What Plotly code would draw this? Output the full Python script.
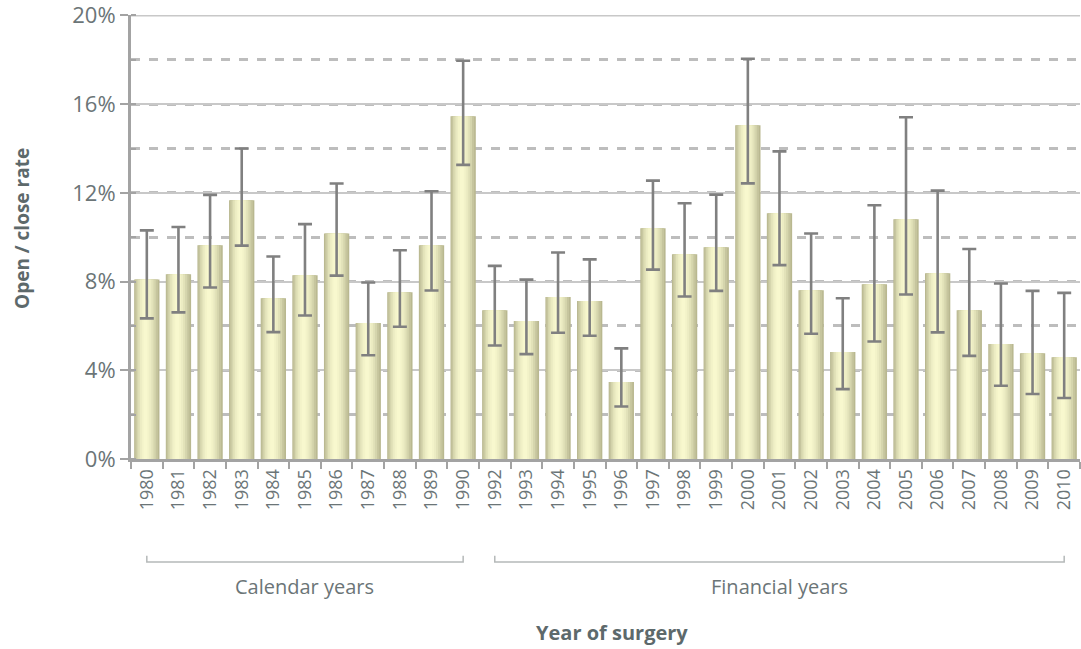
import plotly.graph_objects as go

years = ["1980", "1981", "1982", "1983", "1984", "1985", "1986", "1987", "1988", "1989", "1990",
         "1992", "1993", "1994", "1995", "1996", "1997", "1998", "1999", "2000", "2001",
         "2002", "2003", "2004", "2005", "2006", "2007", "2008", "2009", "2010"]
rate = [8.09, 8.33, 9.64, 11.67, 7.25, 8.29, 10.17, 6.13, 7.52, 9.64, 15.45,
        6.71, 6.22, 7.30, 7.12, 3.47, 10.41, 9.23, 9.55, 15.05, 11.08,
        7.61, 4.82, 7.88, 10.81, 8.38, 6.71, 5.18, 4.77, 4.59]
ci_upper = [10.31, 10.46, 11.91, 14.00, 9.13, 10.59, 12.42, 7.96, 9.41, 12.07, 17.96,
            8.71, 8.09, 9.31, 9.00, 4.99, 12.55, 11.53, 11.92, 18.05, 13.87,
            10.17, 7.25, 11.44, 15.41, 12.10, 9.47, 7.91, 7.58, 7.49]
ci_lower = [6.34, 6.61, 7.73, 9.62, 5.72, 6.47, 8.27, 4.68, 5.96, 7.60, 13.26,
            5.12, 4.73, 5.69, 5.56, 2.37, 8.54, 7.33, 7.58, 12.43, 8.74,
            5.65, 3.15, 5.30, 7.42, 5.71, 4.65, 3.30, 2.93, 2.75]
y_ticks = [0, 4, 8, 12, 16, 20]
group_labels = ["Calendar years", "Financial years"]

err_plus = [u - v for u, v in zip(ci_upper, rate)]
err_minus = [v - l for v, l in zip(rate, ci_lower)]

fig = go.Figure()

# Layered bars to imitate the cylinder shading
layers = [
    (0.80, 0.00, "#b9b890"),
    (0.72, -0.01, "#c6c59e"),
    (0.60, -0.02, "#d5d5ad"),
    (0.48, -0.03, "#e2e2b9"),
    (0.36, -0.035, "#ececc3"),
    (0.24, -0.04, "#f3f3c9"),
    (0.12, -0.04, "#f8f8ce"),
]
for w, shift, col in layers:
    fig.add_trace(go.Bar(
        x=years, y=rate, width=w, offset=-w / 2 + shift,
        marker=dict(color=col, line=dict(width=0)),
        showlegend=False, hoverinfo="skip",
    ))

# Error bars
fig.add_trace(go.Scatter(
    x=years, y=rate, mode="markers",
    marker=dict(size=1, color="rgba(0,0,0,0)"),
    error_y=dict(type="data", symmetric=False, array=err_plus, arrayminus=err_minus,
                 color="#808080", thickness=2.6, width=7),
    showlegend=False, hoverinfo="skip",
))

tick_font = dict(family="Open Sans", size=18, color="#6b7577")

fig.update_layout(
    width=1081, height=649,
    margin=dict(l=131, r=1, t=15, b=190),
    paper_bgcolor="white", plot_bgcolor="white",
    barmode="overlay",
    bargap=0.2,
    xaxis=dict(
        type="category",
        range=[-0.5, 29.5],
        tickangle=-90,
        tickfont=tick_font,
        ticks="outside", ticklen=7, tickwidth=2, tickcolor="#a3a3a3",
        tickson="boundaries",
        showline=True, linecolor="#a3a3a3", linewidth=3,
        showgrid=False, zeroline=False,
        automargin=False,
    ),
    yaxis=dict(
        range=[0, 20.02],
        tickvals=y_ticks,
        ticktext=[f"{v}%" for v in y_ticks],
        tickfont=dict(family="Open Sans", size=22, color="#6b7577"),
        ticks="outside", ticklen=8, tickwidth=2, tickcolor="#a3a3a3",
        ticklabeloverflow="allow",
        showline=True, linecolor="#a3a3a3", linewidth=3,
        showgrid=True, gridcolor="#c8c8c8", gridwidth=2,
        zeroline=False,
        automargin=False,
        minor=dict(dtick=2, tick0=0, ticks="inside", ticklen=5, tickwidth=2,
                   tickcolor="#a3a3a3", showgrid=True, gridcolor="#bdbdbd",
                   gridwidth=2.5, griddash="dash"),
    ),
    font=dict(family="Open Sans", color="#6b7577"),
)

# Top gridline at 20%
fig.add_shape(type="line", xref="paper", yref="y", x0=0, x1=1, y0=20, y1=20,
              line=dict(color="#c8c8c8", width=2), layer="below")

# Group brackets
bracket_y = -0.232
bracket_top = -0.218
groups = [(0, 10), (11, 29)]
for (a, b) in groups:
    fig.add_shape(type="path",
                  xref="x", yref="paper",
                  path=f"M {a},{bracket_top} L {a},{bracket_y} L {b},{bracket_y} L {b},{bracket_top}",
                  line=dict(color="#b5b9b9", width=1.5))

fig.add_annotation(x=5, y=-0.288, xref="x", yref="paper", text=group_labels[0],
                   showarrow=False, font=dict(family="Open Sans", size=20, color="#6b7577"),
                   xanchor="center", yanchor="middle")
fig.add_annotation(x=20, y=-0.288, xref="x", yref="paper", text=group_labels[1],
                   showarrow=False, font=dict(family="Open Sans", size=20, color="#6b7577"),
                   xanchor="center", yanchor="middle")

fig.add_annotation(x=0.507, y=-0.39, xref="paper", yref="paper", text="<b>Year of surgery</b>",
                   showarrow=False, font=dict(family="Open Sans", size=20, color="#5d696b"),
                   xanchor="center", yanchor="middle")
fig.add_annotation(x=-0.115, y=0.52, xref="paper", yref="paper", text="<b>Open / close rate</b>",
                   textangle=-90, showarrow=False,
                   font=dict(family="Open Sans", size=19, color="#5d696b"),
                   xanchor="center", yanchor="middle")

fig.write_html("out.html", config={"displayModeBar": False},
               post_script="document.body.style.margin='0px';")
